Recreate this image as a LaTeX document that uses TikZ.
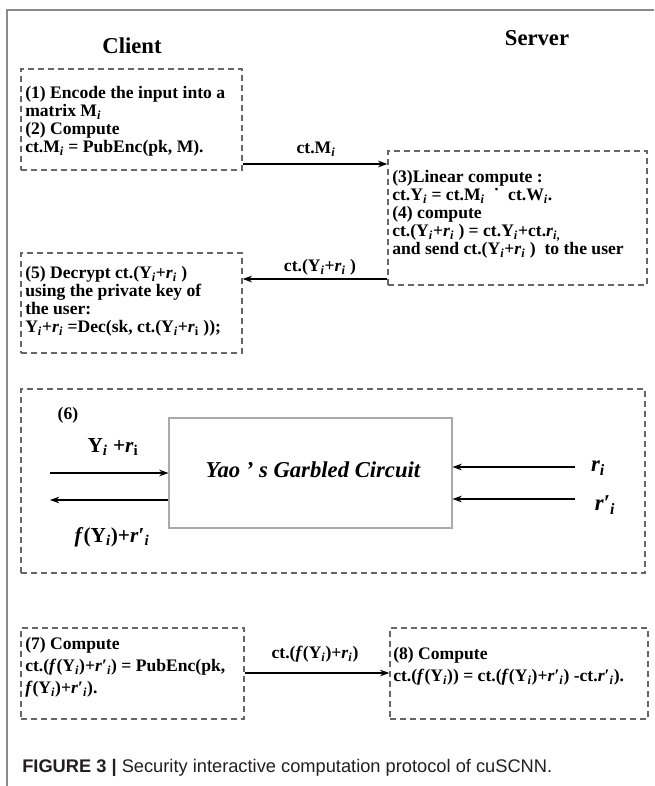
\documentclass[tikz,border=0pt]{standalone}
\usepackage{fontspec}
\setmainfont{Liberation Serif}
\setsansfont{Liberation Sans}
\usetikzlibrary{arrows.meta,fit}
\definecolor{boxgray}{HTML}{666666}
\definecolor{framegray}{HTML}{8A8A8A}
\definecolor{circgray}{HTML}{AAAAAA}
\definecolor{captext}{HTML}{231F20}
% subscript i, r and r-prime used throughout the protocol text
\newcommand{\ix}{\textsubscript{\textit{i}}}
\newcommand{\rr}{\textit{r}}
\newcommand{\rp}{\textit{r}′}
\begin{document}
\begin{tikzpicture}[x=0.75pt,y=-0.75pt,
  dbox/.style={draw=boxgray, dash pattern=on 4.5pt off 3pt, line width=1pt, inner sep=0pt},
  txt/.style={anchor=north west, align=left, inner sep=0pt},
  f13/.style={font=\bfseries\fontsize{13.2}{13.5}\selectfont},
  f16/.style={font=\bfseries\fontsize{13.2}{16.5}\selectfont},
  lbl/.style={font=\bfseries\fontsize{13.2}{15}\selectfont, inner sep=0pt},
  head/.style={font=\bfseries\fontsize{17}{19}\selectfont, inner sep=0pt},
  ihead/.style={font=\bfseries\itshape\fontsize{17}{19}\selectfont, inner sep=0pt},
  big/.style={font=\bfseries\fontsize{16}{18}\selectfont, inner sep=0pt},
  arr/.style={-{Stealth[length=7pt,width=5pt]}, line width=0.8pt}]
\useasboundingbox (0,0) rectangle (654,786);
\fill[white] (0,0) rectangle (654,786);

% page frame
\draw[framegray, line width=1.5pt] (7,786) -- (7,10) -- (654,10);

% column headings
\node[head] (client) at (132,46) {Client};
\node[head] (server) at (537,38) {Server};

% step boxes
\node[dbox, fit={(21,69)(242,170)}] (b1) {};
\node[dbox, fit={(388,151)(647,285)}] (b3) {};
\node[dbox, fit={(21,253)(242,353)}] (b5) {};
\node[dbox, fit={(21,389)(645,573)}] (b6) {};
\node[dbox, fit={(21,628)(244,719)}] (b7) {};
\node[dbox, fit={(390,628)(648,719)}] (b8) {};

\node[txt, f13] (t1) at (25,86) {(1) Encode the input into a\\matrix M\ix\\(2) Compute\\ct.M\ix{} = PubEnc(pk, M).};
\node[txt, f13] (t3) at (392,170) {(3)Linear compute :\\ct.Y\ix{} = ct.M\ix{} \ ˙ \ ct.W\ix.\\(4) compute\\ct.(Y\ix{}+\rr\ix{} ) = ct.Y\ix{}+ct.\rr\textsubscript{\textit{i},}\\and send ct.(Y\ix{}+\rr\ix{} )\ \ to the user};
\node[txt, f13] (t5) at (25,266) {(5) Decrypt ct.(Y\ix{}+\rr\ix{} )\\using the private key of\\the user:\\Y\ix{}+\rr\ix{} =Dec(sk, ct.(Y\ix{}+\rr\textsubscript{i} ));};
\node[txt, f16] (t7) at (25,637) {(7) Compute\\ct.(\textit{f}(Y\ix{})+\rp\ix) = PubEnc(pk,\\\textit{f}(Y\ix{})+\rp\ix).};
\node[txt, f16] (t8) at (393,647) {(8) Compute\\ct.(\textit{f}(Y\ix{})) = ct.(\textit{f}(Y\ix{})+\rp\ix) -ct.\rp\ix).};

% messages between client and server
\coordinate (m1) at (316,164);
\coordinate (m2) at (316,279);
\coordinate (m3) at (316,673);
\draw[arr] (b1.east |- m1) -- (b3.west |- m1);
\draw[arr] (b3.west |- m2) -- (b5.east |- m2);
\draw[arr] (b7.east |- m3) -- (b8.west |- m3);
\node[lbl] (l1) at (316,149) {ct.M\ix};
\node[lbl] (l2) at (320,267) {ct.(Y\ix{}+\rr\ix{} )};
\node[lbl] (l3) at (315,654) {ct.(\textit{f}(Y\ix{})+\rr\ix)};

% step 6: garbled circuit
\node[lbl] (s6) at (68,415) {(6)};
\node[draw=circgray, line width=0.8pt, fill=white, fit={(169,418)(452,528)}, inner sep=0pt] (gc) {};
\node[ihead] (yao) at (313,470) {Yao ’ s Garbled Circuit};

\coordinate (yl) at (50,473);
\coordinate (fl) at (50,500);
\coordinate (ri) at (575,467);
\coordinate (rpi) at (575,499);
\draw[arr] (yl) -- (gc.west |- yl);
\draw[arr] (gc.west |- fl) -- (fl);
\draw[arr] (ri) -- (gc.east |- ri);
\draw[arr] (rpi) -- (gc.east |- rpi);

\node[big] (ylab) at (113,447) {Y\ix{} +\rr\textsubscript{i}};
\node[big] (flab) at (112,537) {\textit{f}(Y\ix)+\rp\ix};
\node[ihead] (rlab) at (598,468) {r\textsubscript{i}};
\node[ihead] (rplab) at (605,505) {r′\textsubscript{i}};

% caption
\node[anchor=base west, inner sep=0pt, text=captext, font=\sffamily\fontsize{13.7}{16}\selectfont] (cap) at (22,772) {\textbf{FIGURE 3 |} Security interactive computation protocol of cuSCNN.};
\end{tikzpicture}
\end{document}
